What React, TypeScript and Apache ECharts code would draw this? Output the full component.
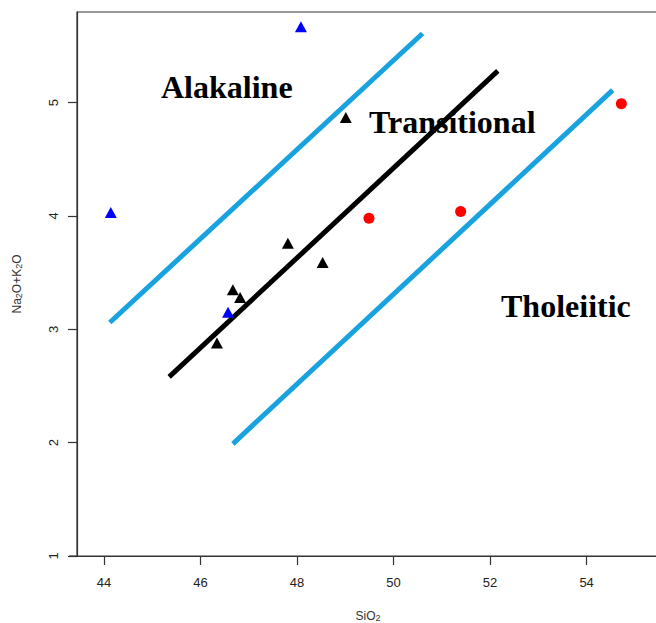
import { useEffect, useRef } from "react";
import * as echarts from "echarts";

const xTicks = [44, 46, 48, 50, 52, 54];
const yTicks = [1, 2, 3, 4, 5];

const alkalineBoundary = [[44.12, 3.06], [50.6, 5.61]];
const transitionalLine = [[45.35, 2.58], [52.16, 5.28]];
const tholeiiticBoundary = [[46.67, 1.99], [54.54, 5.11]];

const blueTriangles = [[48.08, 5.67], [44.14, 4.03], [46.57, 3.15]];
const blackTriangles = [
  [49.01, 4.87],
  [47.81, 3.76],
  [48.53, 3.59],
  [46.67, 3.35],
  [46.82, 3.28],
  [46.34, 2.88],
];
const redCircles = [[49.49, 3.98], [51.39, 4.04], [54.72, 4.99]];

const regionNames = ["Alakaline", "Transitional", "Tholeiitic"];

const BLUE_LINE = "#18a3e0";
const AXIS = "#333";

export default function App() {
  const ref = useRef<HTMLDivElement>(null);

  useEffect(() => {
    if (!ref.current) return;
    const chart = echarts.init(ref.current, undefined, { renderer: "svg" });
    const labelStyle = {
      fontFamily: "Liberation Serif",
      fontWeight: "bold",
      fontSize: 32,
      fill: "#000",
      verticalAlign: "middle",
      align: "left",
    };
    const nameRich = {
      a: { fontFamily: "Liberation Sans", fontSize: 12, color: AXIS, lineHeight: 16, verticalAlign: "bottom" },
      s: { fontFamily: "Liberation Sans", fontSize: 9, color: AXIS, lineHeight: 9, verticalAlign: "bottom" },
    };
    chart.setOption({
      animation: false,
      backgroundColor: "#fff",
      grid: {
        left: 77,
        right: -3,
        top: 12,
        bottom: 67,
        containLabel: false,
        outerBoundsMode: "none",
        show: true,
        borderColor: AXIS,
        borderWidth: 1.2,
      },
      xAxis: {
        type: "value",
        min: 43.44,
        max: 55.5,
        name: "{a|SiO}{s|2}",
        nameLocation: "middle",
        nameGap: 50,
        nameTextStyle: { rich: nameRich },
        axisLine: { show: true, onZero: false, lineStyle: { color: AXIS, width: 1.2 } },
        axisTick: { show: true, customValues: xTicks, length: 9, lineStyle: { color: AXIS, width: 1.2 } },
        axisLabel: {
          customValues: xTicks,
          margin: 20,
          fontFamily: "Liberation Sans",
          fontSize: 13,
          color: "#222",
        },
        splitLine: { show: false },
      },
      yAxis: {
        type: "value",
        min: 1,
        max: 5.8,
        name: "{a|Na}{s|2}{a|O+K}{s|2}{a|O}",
        nameLocation: "middle",
        nameGap: 54,
        nameRotate: 90,
        nameTextStyle: { rich: nameRich },
        axisLine: { show: true, onZero: false, lineStyle: { color: AXIS, width: 1.2 } },
        axisTick: { show: true, customValues: yTicks, length: 9, lineStyle: { color: AXIS, width: 1.2 } },
        axisLabel: {
          customValues: yTicks,
          rotate: 90,
          margin: 17,
          fontFamily: "Liberation Sans",
          fontSize: 13,
          color: "#222",
        },
        splitLine: { show: false },
      },
      series: [
        {
          type: "line",
          data: alkalineBoundary,
          symbol: "none",
          lineStyle: { color: BLUE_LINE, width: 5 },
          z: 2,
        },
        {
          type: "line",
          data: transitionalLine,
          symbol: "none",
          lineStyle: { color: "#000", width: 5 },
          z: 2,
        },
        {
          type: "line",
          data: tholeiiticBoundary,
          symbol: "none",
          lineStyle: { color: BLUE_LINE, width: 5 },
          z: 2,
        },
        {
          type: "scatter",
          data: blueTriangles,
          symbol: "triangle",
          symbolSize: [12, 11],
          itemStyle: { color: "#0000ff", opacity: 1 },
          z: 3,
        },
        {
          type: "scatter",
          data: blackTriangles,
          symbol: "triangle",
          symbolSize: [12, 11],
          itemStyle: { color: "#000", opacity: 1 },
          z: 3,
        },
        {
          type: "scatter",
          data: redCircles,
          symbol: "circle",
          symbolSize: 11,
          itemStyle: { color: "#ff0000", opacity: 1 },
          z: 3,
        },
      ],
      graphic: [
        { type: "text", x: 161, y: 87, z: 10, style: { ...labelStyle, text: regionNames[0] } },
        { type: "text", x: 369, y: 122, z: 10, style: { ...labelStyle, text: regionNames[1] } },
        { type: "text", x: 501, y: 306, z: 10, style: { ...labelStyle, text: regionNames[2] } },
        {
          type: "line",
          z: 5,
          shape: { x1: 69, y1: 556, x2: 78, y2: 556 },
          style: { stroke: AXIS, lineWidth: 1.2 },
        },
      ],
    });
    return () => chart.dispose();
  }, []);

  return (
    <div
      ref={ref}
      style={{ position: "absolute", left: 0, top: 0, width: 656, height: 623, background: "#fff" }}
    />
  );
}
